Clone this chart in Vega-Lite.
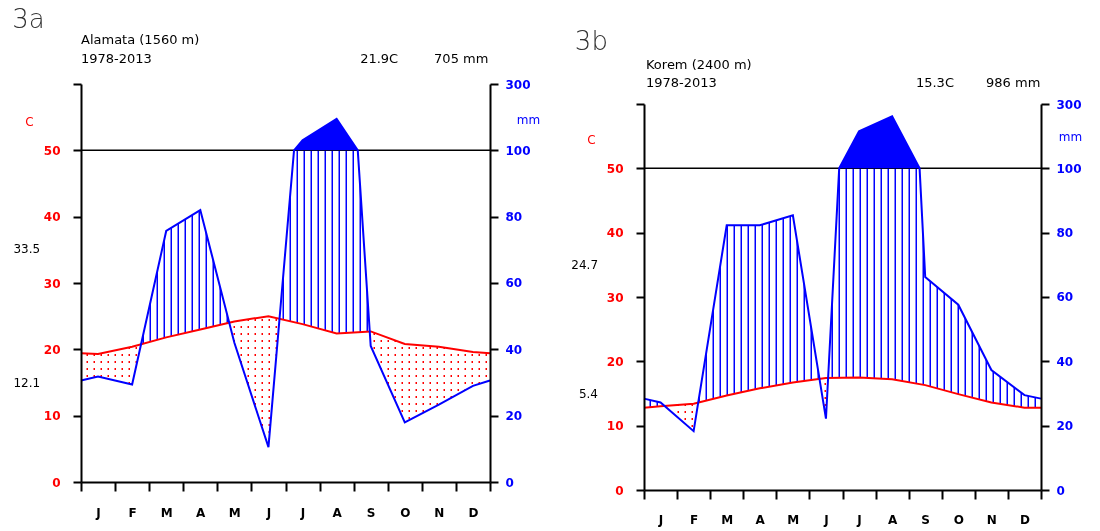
{
 "$schema": "https://vega.github.io/schema/vega-lite/v6.json",
 "padding": {"left": 12, "top": 6, "right": 5, "bottom": 5},
 "background": "white",
 "config": {"view": {"stroke": null}, "font": "DejaVu Sans"},
 "datasets": {
  "at": [{"m":0,"t":19.4},{"m":0.5,"t":19.3},{"m":1.5,"t":20.4},{"m":2.5,"t":21.8},{"m":3.5,"t":23.0},{"m":4.5,"t":24.2},{"m":5.5,"t":25.0},{"m":6.5,"t":23.8},{"m":7.5,"t":22.4},{"m":8.5,"t":22.7},{"m":9.5,"t":20.8},{"m":10.5,"t":20.4},{"m":11.5,"t":19.6},{"m":12,"t":19.4}],
  "ap": [{"m":0,"p":30.6},{"m":0.5,"p":31.8},{"m":1.5,"p":29.4},{"m":2.5,"p":75.7},{"m":3.5,"p":82.0},{"m":4.5,"p":42.0},{"m":5.5,"p":10.5},{"m":6.25,"p":100},{"m":6.5,"p":130},{"m":7.5,"p":195},{"m":8.12,"p":100},{"m":8.5,"p":41.0},{"m":9.5,"p":18.0},{"m":10.5,"p":23.3},{"m":11.5,"p":29.0},{"m":12,"p":30.6}],
  "bt": [{"m":0,"t":12.8},{"m":0.5,"t":13.0},{"m":1.5,"t":13.4},{"m":2.5,"t":14.7},{"m":3.5,"t":15.8},{"m":4.5,"t":16.7},{"m":5.5,"t":17.4},{"m":6.5,"t":17.5},{"m":7.5,"t":17.2},{"m":8.5,"t":16.3},{"m":9.5,"t":14.9},{"m":10.5,"t":13.6},{"m":11.5,"t":12.8},{"m":12,"t":12.8}],
  "bp": [{"m":0,"p":28.4},{"m":0.5,"p":27.2},{"m":1.5,"p":18.3},{"m":2.5,"p":82.3},{"m":3.5,"p":82.3},{"m":4.5,"p":85.4},{"m":5.5,"p":22.2},{"m":5.9,"p":100},{"m":6.5,"p":215},{"m":7.5,"p":262},{"m":8.33,"p":100},{"m":8.5,"p":66.2},{"m":9.5,"p":57.6},{"m":10.5,"p":37.3},{"m":11.5,"p":29.5},{"m":12,"p":28.4}]
 },
 "spacing": 31,
 "hconcat": [
  {
   "width": 409, "height": 398,
   "resolve": {"scale": {"y": "independent"}},
   "layer": [
    {"layer": [
     {"data": {"values": [{}]}, "mark": {"type": "rect", "color": "#000000"},
      "encoding": {"x": {"datum": 0, "type": "quantitative", "scale": {"domain": [0,12], "nice": false},
                         "axis": {"values": [0,1,2,3,4,5,6,7,8,9,10,11,12], "tickCount": 20, "labelExpr": "['J','F','M','A','M','J','J','A','S','O','N','D'][datum.value] || ''",
                                  "labelOffset": 17, "labelFont": "DejaVu Sans", "labelFontSize": 12, "labelFontWeight": "bold", "labelColor": "#000000",
                                  "labelPadding": 16, "labelFlush": false, "labelOverlap": false, "labelBound": false,
                                  "tickSize": 9, "tickWidth": 2, "tickColor": "#000000", "domainWidth": 2, "domainColor": "#000000", "grid": false, "title": null, "zindex": 1}},
                   "x2": {"datum": 12},
                   "y": {"datum": 0, "type": "quantitative", "scale": {"domain": [0,60], "nice": false}, "axis": null}, "y2": {"datum": 60}}},
     {"data": {"values": [{}]}, "mark": {"type": "rule", "color": "#ffffff", "strokeWidth": 409, "strokeDash": [2, 5], "clip": true},
      "encoding": {"x": {"datum": 6, "type": "quantitative", "scale": {"domain": [0,12], "nice": false}},
                   "y": {"datum": 0, "type": "quantitative", "scale": {"domain": [0,60], "nice": false}, "axis": null}, "y2": {"datum": 60}}},
     {"data": {"name": "at"}, "mark": {"type": "area", "color": "#00ffff", "blend": "darken"},
      "encoding": {"x": {"field": "m", "type": "quantitative", "scale": {"domain": [0,12], "nice": false}},
                   "y": {"field": "t", "type": "quantitative", "scale": {"domain": [0,60], "nice": false}, "axis": null}, "y2": {"datum": 0}}},
     {"data": {"name": "at"}, "mark": {"type": "area", "color": "#ffff00", "blend": "lighten"},
      "encoding": {"x": {"field": "m", "type": "quantitative", "scale": {"domain": [0,12], "nice": false}},
                   "y": {"field": "t", "type": "quantitative", "scale": {"domain": [0,60], "nice": false}, "axis": null}, "y2": {"datum": 60}}},
     {"data": {"name": "at"}, "mark": {"type": "area", "color": "#ffff00", "blend": "darken"},
      "encoding": {"x": {"field": "m", "type": "quantitative", "scale": {"domain": [0,12], "nice": false}},
                   "y": {"field": "t", "type": "quantitative", "scale": {"domain": [0,60], "nice": false}, "axis": null}, "y2": {"datum": 60}}}
    ]},
    {"layer": [
     {"data": {"name": "ap"}, "mark": {"type": "area", "color": "#000000"},
      "encoding": {"x": {"field": "m", "type": "quantitative", "scale": {"domain": [0,12], "nice": false},
                         "axis": {"values": [0,1,2,3,4,5,6,7,8,9,10,11,12], "tickCount": 20, "labelExpr": "['J','F','M','A','M','J','J','A','S','O','N','D'][datum.value] || ''",
                                  "labelOffset": 17, "labelFont": "DejaVu Sans", "labelFontSize": 12, "labelFontWeight": "bold", "labelColor": "#000000",
                                  "labelPadding": 16, "labelFlush": false, "labelOverlap": false, "labelBound": false,
                                  "tickSize": 9, "tickWidth": 2, "tickColor": "#000000", "domainWidth": 2, "domainColor": "#000000", "grid": false, "title": null, "zindex": 1}},
                   "y": {"field": "p", "type": "quantitative", "scale": {"domain": [0,100,300], "range": [398,66.333,0], "nice": false}, "axis": null}, "y2": {"datum": 0}}}
    ]},
    {"layer": [
     {"data": {"name": "at"}, "mark": {"type": "area", "color": "#ffff00", "blend": "difference"},
      "encoding": {"x": {"field": "m", "type": "quantitative", "scale": {"domain": [0,12], "nice": false}},
                   "y": {"field": "t", "type": "quantitative", "scale": {"domain": [0,60], "nice": false}}, "y2": {"datum": 60}}},
     {"data": {"values": [{}]}, "mark": {"type": "rule", "color": "#000000", "strokeWidth": 398, "strokeDash": [5.5, 1.5], "clip": true},
      "encoding": {"x": {"datum": 0, "type": "quantitative", "scale": {"domain": [0,12], "nice": false}}, "x2": {"datum": 12},
                   "y": {"datum": 30, "type": "quantitative", "scale": {"domain": [0,60], "nice": false}}}},
     {"data": {"values": [{}]}, "mark": {"type": "rect", "color": "#ffffff", "blend": "difference"},
      "encoding": {"x": {"datum": 0, "type": "quantitative", "scale": {"domain": [0,12], "nice": false}}, "x2": {"datum": 12},
                   "y": {"datum": 0, "type": "quantitative", "scale": {"domain": [0,60], "nice": false}}, "y2": {"datum": 60}}},
     {"data": {"values": [{}]}, "mark": {"type": "rule", "color": "#000000", "strokeWidth": 1.5},
      "encoding": {"x": {"datum": 0, "type": "quantitative", "scale": {"domain": [0,12], "nice": false}}, "x2": {"datum": 12},
                   "y": {"datum": 50, "type": "quantitative", "scale": {"domain": [0,60], "nice": false}}}},
     {"data": {"name": "at"}, "mark": {"type": "line", "color": "#ff0000", "strokeWidth": 2},
      "encoding": {
       "x": {"field": "m", "type": "quantitative", "scale": {"domain": [0,12], "nice": false},
             "axis": {"values": [0,1,2,3,4,5,6,7,8,9,10,11,12], "tickCount": 20, "labelExpr": "['J','F','M','A','M','J','J','A','S','O','N','D'][datum.value] || ''",
                      "labelOffset": 17, "labelFont": "DejaVu Sans", "labelFontSize": 12, "labelFontWeight": "bold", "labelColor": "#000000",
                      "labelPadding": 16, "labelFlush": false, "labelOverlap": false, "labelBound": false,
                      "tickSize": 9, "tickWidth": 2, "tickColor": "#000000", "domainWidth": 2, "domainColor": "#000000", "grid": false, "title": null, "zindex": 1}},
       "y": {"field": "t", "type": "quantitative", "scale": {"domain": [0,60], "nice": false},
             "axis": {"orient": "left", "values": [0,10,20,30,40,50,60], "tickCount": 20, "labelExpr": "datum.value == 60 ? '' : datum.label",
                      "labelFont": "DejaVu Sans", "labelFontSize": 12, "labelFontWeight": "bold", "labelColor": "#ff0000", "labelPadding": 13,
                      "labelFlush": false, "labelOverlap": false, "tickSize": 8, "tickWidth": 2, "tickColor": "#000000",
                      "domainWidth": 2, "domainColor": "#000000", "grid": false,
                      "title": "C", "titleColor": "#ff0000", "titleFont": "DejaVu Sans", "titleFontSize": 12, "titleFontWeight": "normal",
                      "titleAngle": 0, "titleAlign": "center", "titleBaseline": "middle", "titleX": -52, "titleY": 37, "zindex": 1}}}},
     {"data": {"values": [{}]}, "mark": {"type": "text", "text": "3a", "align": "left", "baseline": "middle", "font": "DejaVu Sans", "fontSize": 26, "fontWeight": 200, "color": "#333333"},
      "encoding": {"x": {"datum": -2.02, "type": "quantitative", "scale": {"domain": [0,12], "nice": false}},
                   "y": {"datum": 69.72, "type": "quantitative", "scale": {"domain": [0,60], "nice": false}}}},
     {"data": {"values": [{}]}, "mark": {"type": "text", "text": "Alamata (1560 m)", "align": "left", "baseline": "middle", "font": "DejaVu Sans", "fontSize": 13, "color": "#000000"},
      "encoding": {"x": {"datum": 0, "type": "quantitative", "scale": {"domain": [0,12], "nice": false}},
                   "y": {"datum": 66.63, "type": "quantitative", "scale": {"domain": [0,60], "nice": false}}}},
     {"data": {"values": [{}]}, "mark": {"type": "text", "text": "1978-2013", "align": "left", "baseline": "middle", "font": "DejaVu Sans", "fontSize": 13, "color": "#000000"},
      "encoding": {"x": {"datum": 0, "type": "quantitative", "scale": {"domain": [0,12], "nice": false}},
                   "y": {"datum": 63.77, "type": "quantitative", "scale": {"domain": [0,60], "nice": false}}}},
     {"data": {"values": [{}]}, "mark": {"type": "text", "text": "21.9C", "align": "left", "baseline": "middle", "font": "DejaVu Sans", "fontSize": 13, "color": "#000000"},
      "encoding": {"x": {"datum": 8.19, "type": "quantitative", "scale": {"domain": [0,12], "nice": false}},
                   "y": {"datum": 63.77, "type": "quantitative", "scale": {"domain": [0,60], "nice": false}}}},
     {"data": {"values": [{}]}, "mark": {"type": "text", "text": "705 mm", "align": "left", "baseline": "middle", "font": "DejaVu Sans", "fontSize": 13, "color": "#000000"},
      "encoding": {"x": {"datum": 10.36, "type": "quantitative", "scale": {"domain": [0,12], "nice": false}},
                   "y": {"datum": 63.77, "type": "quantitative", "scale": {"domain": [0,60], "nice": false}}}},
     {"data": {"values": [{}]}, "mark": {"type": "text", "text": "33.5", "align": "right", "baseline": "middle", "font": "DejaVu Sans", "fontSize": 12, "color": "#000000"},
      "encoding": {"x": {"datum": -1.2, "type": "quantitative", "scale": {"domain": [0,12], "nice": false}},
                   "y": {"datum": 35.2, "type": "quantitative", "scale": {"domain": [0,60], "nice": false}}}},
     {"data": {"values": [{}]}, "mark": {"type": "text", "text": "12.1", "align": "right", "baseline": "middle", "font": "DejaVu Sans", "fontSize": 12, "color": "#000000"},
      "encoding": {"x": {"datum": -1.2, "type": "quantitative", "scale": {"domain": [0,12], "nice": false}},
                   "y": {"datum": 15.0, "type": "quantitative", "scale": {"domain": [0,60], "nice": false}}}}
    ]},
    {"layer": [
     {"data": {"name": "ap"}, "transform": [{"filter": "datum.p >= 100"}], "mark": {"type": "area", "color": "#0000ff"},
      "encoding": {"x": {"field": "m", "type": "quantitative", "scale": {"domain": [0,12], "nice": false},
                         "axis": {"values": [0,1,2,3,4,5,6,7,8,9,10,11,12], "tickCount": 20, "labelExpr": "['J','F','M','A','M','J','J','A','S','O','N','D'][datum.value] || ''",
                                  "labelOffset": 17, "labelFont": "DejaVu Sans", "labelFontSize": 12, "labelFontWeight": "bold", "labelColor": "#000000",
                                  "labelPadding": 16, "labelFlush": false, "labelOverlap": false, "labelBound": false,
                                  "tickSize": 9, "tickWidth": 2, "tickColor": "#000000", "domainWidth": 2, "domainColor": "#000000", "grid": false, "title": null, "zindex": 1}},
                   "y": {"field": "p", "type": "quantitative", "scale": {"domain": [0,100,300], "range": [398,66.333,0], "nice": false}}, "y2": {"datum": 100}}},
     {"data": {"name": "ap"}, "mark": {"type": "line", "color": "#0000ff", "strokeWidth": 2},
      "encoding": {"x": {"field": "m", "type": "quantitative", "scale": {"domain": [0,12], "nice": false}},
                   "y": {"field": "p", "type": "quantitative", "scale": {"domain": [0,100,300], "range": [398,66.333,0], "nice": false},
                         "axis": {"orient": "right", "values": [0,20,40,60,80,100,300], "tickCount": 20, "labelFont": "DejaVu Sans", "labelFontSize": 12, "labelFontWeight": "bold",
                                  "labelColor": "#0000ff", "labelPadding": 7, "labelFlush": false, "labelOverlap": false, "tickSize": 8, "tickWidth": 2, "tickColor": "#000000",
                                  "domainWidth": 2, "domainColor": "#000000", "grid": false,
                                  "title": "mm", "titleColor": "#0000ff", "titleFont": "DejaVu Sans", "titleFontSize": 12, "titleFontWeight": "normal",
                                  "titleAngle": 0, "titleAlign": "center", "titleBaseline": "middle", "titleX": 38, "titleY": 35, "zindex": 1}}}}
    ]}
   ]
  },
  {
   "width": 397, "height": 406,
   "resolve": {"scale": {"y": "independent"}},
   "layer": [
    {"layer": [
     {"data": {"values": [{}]}, "mark": {"type": "rect", "color": "#000000"},
      "encoding": {"x": {"datum": 0, "type": "quantitative", "scale": {"domain": [0,12], "nice": false},
                         "axis": {"values": [0,1,2,3,4,5,6,7,8,9,10,11,12], "tickCount": 20, "labelExpr": "['J','F','M','A','M','J','J','A','S','O','N','D'][datum.value] || ''",
                                  "labelOffset": 16.5, "labelFont": "DejaVu Sans", "labelFontSize": 12, "labelFontWeight": "bold", "labelColor": "#000000",
                                  "labelPadding": 15, "labelFlush": false, "labelOverlap": false, "labelBound": false,
                                  "tickSize": 9, "tickWidth": 2, "tickColor": "#000000", "domainWidth": 2, "domainColor": "#000000", "grid": false, "title": null, "zindex": 1}},
                   "x2": {"datum": 12},
                   "y": {"datum": 0, "type": "quantitative", "scale": {"domain": [0,60], "range": [406,20], "nice": false}, "axis": null}, "y2": {"datum": 60}}},
     {"data": {"values": [{}]}, "mark": {"type": "rule", "color": "#ffffff", "strokeWidth": 397, "strokeDash": [2, 5], "clip": true},
      "encoding": {"x": {"datum": 6, "type": "quantitative", "scale": {"domain": [0,12], "nice": false}},
                   "y": {"datum": 0, "type": "quantitative", "scale": {"domain": [0,60], "range": [406,20], "nice": false}, "axis": null}, "y2": {"datum": 60}}},
     {"data": {"name": "bt"}, "mark": {"type": "area", "color": "#00ffff", "blend": "darken"},
      "encoding": {"x": {"field": "m", "type": "quantitative", "scale": {"domain": [0,12], "nice": false}},
                   "y": {"field": "t", "type": "quantitative", "scale": {"domain": [0,60], "range": [406,20], "nice": false}, "axis": null}, "y2": {"datum": 0}}},
     {"data": {"name": "bt"}, "mark": {"type": "area", "color": "#ffff00", "blend": "lighten"},
      "encoding": {"x": {"field": "m", "type": "quantitative", "scale": {"domain": [0,12], "nice": false}},
                   "y": {"field": "t", "type": "quantitative", "scale": {"domain": [0,60], "range": [406,20], "nice": false}, "axis": null}, "y2": {"datum": 60}}},
     {"data": {"name": "bt"}, "mark": {"type": "area", "color": "#ffff00", "blend": "darken"},
      "encoding": {"x": {"field": "m", "type": "quantitative", "scale": {"domain": [0,12], "nice": false}},
                   "y": {"field": "t", "type": "quantitative", "scale": {"domain": [0,60], "range": [406,20], "nice": false}, "axis": null}, "y2": {"datum": 60}}}
    ]},
    {"layer": [
     {"data": {"name": "bp"}, "mark": {"type": "area", "color": "#000000"},
      "encoding": {"x": {"field": "m", "type": "quantitative", "scale": {"domain": [0,12], "nice": false},
                         "axis": {"values": [0,1,2,3,4,5,6,7,8,9,10,11,12], "tickCount": 20, "labelExpr": "['J','F','M','A','M','J','J','A','S','O','N','D'][datum.value] || ''",
                                  "labelOffset": 16.5, "labelFont": "DejaVu Sans", "labelFontSize": 12, "labelFontWeight": "bold", "labelColor": "#000000",
                                  "labelPadding": 15, "labelFlush": false, "labelOverlap": false, "labelBound": false,
                                  "tickSize": 9, "tickWidth": 2, "tickColor": "#000000", "domainWidth": 2, "domainColor": "#000000", "grid": false, "title": null, "zindex": 1}},
                   "y": {"field": "p", "type": "quantitative", "scale": {"domain": [0,100,300], "range": [406,84.333,20], "nice": false}, "axis": null}, "y2": {"datum": 0}}}
    ]},
    {"layer": [
     {"data": {"name": "bt"}, "mark": {"type": "area", "color": "#ffff00", "blend": "difference"},
      "encoding": {"x": {"field": "m", "type": "quantitative", "scale": {"domain": [0,12], "nice": false}},
                   "y": {"field": "t", "type": "quantitative", "scale": {"domain": [0,60], "range": [406,20], "nice": false}}, "y2": {"datum": 60}}},
     {"data": {"values": [{}]}, "mark": {"type": "rule", "color": "#000000", "strokeWidth": 386, "strokeDash": [5.5, 1.5], "clip": true},
      "encoding": {"x": {"datum": 0, "type": "quantitative", "scale": {"domain": [0,12], "nice": false}}, "x2": {"datum": 12},
                   "y": {"datum": 30, "type": "quantitative", "scale": {"domain": [0,60], "range": [406,20], "nice": false}}}},
     {"data": {"values": [{}]}, "mark": {"type": "rect", "color": "#ffffff", "blend": "difference"},
      "encoding": {"x": {"datum": 0, "type": "quantitative", "scale": {"domain": [0,12], "nice": false}}, "x2": {"datum": 12},
                   "y": {"datum": 0, "type": "quantitative", "scale": {"domain": [0,60], "range": [406,20], "nice": false}}, "y2": {"datum": 60}}},
     {"data": {"values": [{}]}, "mark": {"type": "rule", "color": "#000000", "strokeWidth": 1.5},
      "encoding": {"x": {"datum": 0, "type": "quantitative", "scale": {"domain": [0,12], "nice": false}}, "x2": {"datum": 12},
                   "y": {"datum": 50, "type": "quantitative", "scale": {"domain": [0,60], "range": [406,20], "nice": false}}}},
     {"data": {"name": "bt"}, "mark": {"type": "line", "color": "#ff0000", "strokeWidth": 2},
      "encoding": {
       "x": {"field": "m", "type": "quantitative", "scale": {"domain": [0,12], "nice": false},
             "axis": {"values": [0,1,2,3,4,5,6,7,8,9,10,11,12], "tickCount": 20, "labelExpr": "['J','F','M','A','M','J','J','A','S','O','N','D'][datum.value] || ''",
                      "labelOffset": 16.5, "labelFont": "DejaVu Sans", "labelFontSize": 12, "labelFontWeight": "bold", "labelColor": "#000000",
                      "labelPadding": 15, "labelFlush": false, "labelOverlap": false, "labelBound": false,
                      "tickSize": 9, "tickWidth": 2, "tickColor": "#000000", "domainWidth": 2, "domainColor": "#000000", "grid": false, "title": null, "zindex": 1}},
       "y": {"field": "t", "type": "quantitative", "scale": {"domain": [0,60], "range": [406,20], "nice": false},
             "axis": {"orient": "left", "values": [0,10,20,30,40,50,60], "tickCount": 20, "labelExpr": "datum.value == 60 ? '' : datum.label",
                      "labelFont": "DejaVu Sans", "labelFontSize": 12, "labelFontWeight": "bold", "labelColor": "#ff0000", "labelPadding": 13,
                      "labelFlush": false, "labelOverlap": false, "tickSize": 8, "tickWidth": 2, "tickColor": "#000000",
                      "domainWidth": 2, "domainColor": "#000000", "grid": false,
                      "title": "C", "titleColor": "#ff0000", "titleFont": "DejaVu Sans", "titleFontSize": 12, "titleFontWeight": "normal",
                      "titleAngle": 0, "titleAlign": "center", "titleBaseline": "middle", "titleX": -53, "titleY": 55, "zindex": 1}}}},
     {"data": {"values": [{}]}, "mark": {"type": "text", "text": "3b", "align": "left", "baseline": "middle", "font": "DejaVu Sans", "fontSize": 26, "fontWeight": 200, "color": "#333333"},
      "encoding": {"x": {"datum": -2.09, "type": "quantitative", "scale": {"domain": [0,12], "nice": false}},
                   "y": {"datum": 69.56, "type": "quantitative", "scale": {"domain": [0,60], "range": [406,20], "nice": false}}}},
     {"data": {"values": [{}]}, "mark": {"type": "text", "text": "Korem (2400 m)", "align": "left", "baseline": "middle", "font": "DejaVu Sans", "fontSize": 13, "color": "#000000"},
      "encoding": {"x": {"datum": 0.06, "type": "quantitative", "scale": {"domain": [0,12], "nice": false}},
                   "y": {"datum": 66.06, "type": "quantitative", "scale": {"domain": [0,60], "range": [406,20], "nice": false}}}},
     {"data": {"values": [{}]}, "mark": {"type": "text", "text": "1978-2013", "align": "left", "baseline": "middle", "font": "DejaVu Sans", "fontSize": 13, "color": "#000000"},
      "encoding": {"x": {"datum": 0.06, "type": "quantitative", "scale": {"domain": [0,12], "nice": false}},
                   "y": {"datum": 63.26, "type": "quantitative", "scale": {"domain": [0,60], "range": [406,20], "nice": false}}}},
     {"data": {"values": [{}]}, "mark": {"type": "text", "text": "15.3C", "align": "left", "baseline": "middle", "font": "DejaVu Sans", "fontSize": 13, "color": "#000000"},
      "encoding": {"x": {"datum": 8.22, "type": "quantitative", "scale": {"domain": [0,12], "nice": false}},
                   "y": {"datum": 63.26, "type": "quantitative", "scale": {"domain": [0,60], "range": [406,20], "nice": false}}}},
     {"data": {"values": [{}]}, "mark": {"type": "text", "text": "986 mm", "align": "left", "baseline": "middle", "font": "DejaVu Sans", "fontSize": 13, "color": "#000000"},
      "encoding": {"x": {"datum": 10.34, "type": "quantitative", "scale": {"domain": [0,12], "nice": false}},
                   "y": {"datum": 63.26, "type": "quantitative", "scale": {"domain": [0,60], "range": [406,20], "nice": false}}}},
     {"data": {"values": [{}]}, "mark": {"type": "text", "text": "24.7", "align": "right", "baseline": "middle", "font": "DejaVu Sans", "fontSize": 12, "color": "#000000"},
      "encoding": {"x": {"datum": -1.39, "type": "quantitative", "scale": {"domain": [0,12], "nice": false}},
                   "y": {"datum": 35.0, "type": "quantitative", "scale": {"domain": [0,60], "range": [406,20], "nice": false}}}},
     {"data": {"values": [{}]}, "mark": {"type": "text", "text": "5.4", "align": "right", "baseline": "middle", "font": "DejaVu Sans", "fontSize": 12, "color": "#000000"},
      "encoding": {"x": {"datum": -1.39, "type": "quantitative", "scale": {"domain": [0,12], "nice": false}},
                   "y": {"datum": 15.0, "type": "quantitative", "scale": {"domain": [0,60], "range": [406,20], "nice": false}}}}
    ]},
    {"layer": [
     {"data": {"name": "bp"}, "transform": [{"filter": "datum.p >= 100"}], "mark": {"type": "area", "color": "#0000ff"},
      "encoding": {"x": {"field": "m", "type": "quantitative", "scale": {"domain": [0,12], "nice": false},
                         "axis": {"values": [0,1,2,3,4,5,6,7,8,9,10,11,12], "tickCount": 20, "labelExpr": "['J','F','M','A','M','J','J','A','S','O','N','D'][datum.value] || ''",
                                  "labelOffset": 16.5, "labelFont": "DejaVu Sans", "labelFontSize": 12, "labelFontWeight": "bold", "labelColor": "#000000",
                                  "labelPadding": 15, "labelFlush": false, "labelOverlap": false, "labelBound": false,
                                  "tickSize": 9, "tickWidth": 2, "tickColor": "#000000", "domainWidth": 2, "domainColor": "#000000", "grid": false, "title": null, "zindex": 1}},
                   "y": {"field": "p", "type": "quantitative", "scale": {"domain": [0,100,300], "range": [406,84.333,20], "nice": false}}, "y2": {"datum": 100}}},
     {"data": {"name": "bp"}, "mark": {"type": "line", "color": "#0000ff", "strokeWidth": 2},
      "encoding": {"x": {"field": "m", "type": "quantitative", "scale": {"domain": [0,12], "nice": false}},
                   "y": {"field": "p", "type": "quantitative", "scale": {"domain": [0,100,300], "range": [406,84.333,20], "nice": false},
                         "axis": {"orient": "right", "values": [0,20,40,60,80,100,300], "tickCount": 20, "labelFont": "DejaVu Sans", "labelFontSize": 12, "labelFontWeight": "bold",
                                  "labelColor": "#0000ff", "labelPadding": 7, "labelFlush": false, "labelOverlap": false, "tickSize": 8, "tickWidth": 2, "tickColor": "#000000",
                                  "domainWidth": 2, "domainColor": "#000000", "grid": false,
                                  "title": "mm", "titleColor": "#0000ff", "titleFont": "DejaVu Sans", "titleFontSize": 12, "titleFontWeight": "normal",
                                  "titleAngle": 0, "titleAlign": "center", "titleBaseline": "middle", "titleX": 29, "titleY": 52, "zindex": 1}}}}
    ]}
   ]
  }
 ]
}
